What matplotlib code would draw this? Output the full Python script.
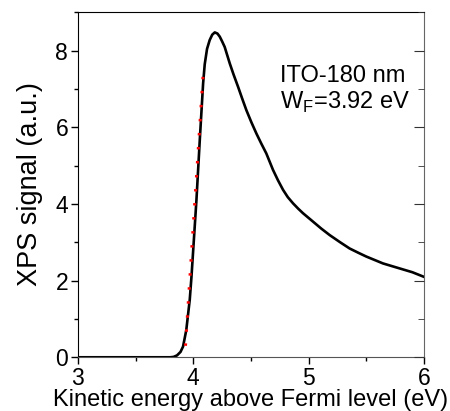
import numpy as np
import matplotlib.pyplot as plt
from matplotlib.ticker import MultipleLocator

plt.rcParams['font.family'] = ['Liberation Sans', 'DejaVu Sans']

# XPS secondary-electron cutoff
energy = [3.0, 3.3, 3.6, 3.80, 3.83, 3.86, 3.89, 3.912, 3.94, 3.97, 3.985, 4.028,
          4.057, 4.086, 4.10, 4.12, 4.143, 4.165, 4.187, 4.21, 4.23, 4.25, 4.273,
          4.317, 4.35, 4.389, 4.425, 4.461, 4.505, 4.548, 4.59, 4.634, 4.692,
          4.735, 4.779, 4.82, 4.865, 4.91, 4.952, 5.039, 5.11, 5.183, 5.27,
          5.356, 5.43, 5.5, 5.645, 5.789, 5.9, 6.0]
signal = [0.0, 0.0, 0.0, 0.0, 0.01, 0.05, 0.14, 0.28, 0.71, 1.5, 2.1, 4.1,
          5.67, 7.15, 7.65, 8.05, 8.28, 8.42, 8.48, 8.45, 8.37, 8.25, 8.1,
          7.67, 7.38, 7.06, 6.75, 6.45, 6.13, 5.84, 5.58, 5.32, 4.89,
          4.62, 4.37, 4.18, 4.02, 3.88, 3.76, 3.54, 3.36, 3.19, 3.01,
          2.84, 2.73, 2.63, 2.45, 2.32, 2.22, 2.10]

# linear fit of the onset (dotted red)
fit_x = [3.933, 4.086]
fit_y = [0.30, 7.37]

fig = plt.figure(figsize=(4.5, 4.11), dpi=100)
ax = fig.add_axes([0.173, 0.1307, 0.769, 0.8408])

ax.plot(energy, signal, color='black', lw=1.9)
ax.plot(fit_x, fit_y, color='red', lw=2.2, ls=(0, (0.8, 3.8)))

ax.set_xlim(3, 6)
ax.set_ylim(0, 9.02)
ax.xaxis.set_major_locator(MultipleLocator(1))
ax.xaxis.set_minor_locator(MultipleLocator(0.5))
ax.yaxis.set_major_locator(MultipleLocator(2))
ax.yaxis.set_minor_locator(MultipleLocator(1))

ax.tick_params(which='both', direction='out', labelsize=16.5, top=False, right=False, width=1)
ax.tick_params(which='major', length=5, pad=2)
ax.tick_params(which='minor', length=3)

# right axis carries inward ticks only
ax2 = ax.twinx()
ax2.set_ylim(ax.get_ylim())
ax2.yaxis.set_major_locator(MultipleLocator(2))
ax2.yaxis.set_minor_locator(MultipleLocator(1))
ax2.tick_params(which='both', direction='in', labelright=False, color='#333333')
ax2.tick_params(which='major', length=7)
ax2.tick_params(which='minor', length=4)
for s in ax2.spines.values():
    s.set_visible(False)
ax.spines['right'].set_color('#666666')
ax.spines['bottom'].set_color('#555555')

ax.set_xlabel('Kinetic energy above Fermi level (eV)', fontsize=17, labelpad=-1)
ax.set_ylabel('XPS signal (a.u.)', fontsize=19.5, labelpad=9)

ax.text(0.585, 0.797, 'ITO-180 nm', transform=ax.transAxes, fontsize=17, va='baseline')
ax.text(0.585, 0.72, r'W$_\mathregular{F}$=3.92 eV', transform=ax.transAxes, fontsize=17, va='baseline')

fig.savefig('out.png', dpi=100)
